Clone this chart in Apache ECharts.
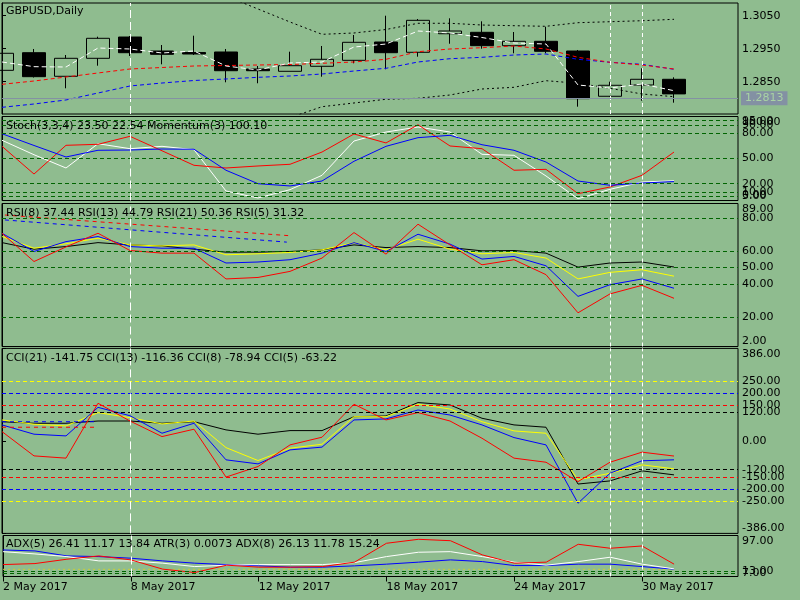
<!DOCTYPE html>
<html>
<head>
<meta charset="utf-8">
<title>GBPUSD,Daily</title>
<script src="https://cdn.jsdelivr.net/npm/echarts@6/dist/echarts.min.js"></script>
<style>
  html, body { margin: 0; padding: 0; background: #8fbc8f; }
  #chart { width: 800px; height: 600px; }
</style>
</head>
<body>
<div id="chart"></div>
<script>
// bars
var dates = ['2 May 2017', '3 May 2017', '4 May 2017', '5 May 2017', '8 May 2017', '9 May 2017', '10 May 2017', '11 May 2017',
  '12 May 2017', '15 May 2017', '16 May 2017', '17 May 2017', '18 May 2017', '19 May 2017', '22 May 2017', '23 May 2017',
  '24 May 2017', '25 May 2017', '26 May 2017', '29 May 2017', '30 May 2017', '31 May 2017']
var openP = [1.28845, 1.29379, 1.28664, 1.29209, 1.29854, 1.29430, 1.29385, 1.29400, 1.28885, 1.28815, 1.28967,
  1.29148, 1.29703, 1.29391, 1.29954, 1.29997, 1.29591, 1.29724, 1.29430, 1.28058, 1.28400, 1.28573]
var closeP = [1.29361, 1.28652, 1.29209, 1.29815, 1.29379, 1.29330, 1.29339, 1.28833, 1.28833, 1.28985, 1.29179,
  1.29694, 1.29379, 1.30360, 1.30036, 1.29591, 1.29724, 1.29421, 1.27985, 1.28391, 1.28573, 1.28130]
var lowP = [1.28845, 1.28627, 1.28300, 1.28985, 1.29279, 1.29027, 1.29309, 1.28482, 1.28452, 1.28815, 1.28652,
  1.29058, 1.28876, 1.29258, 1.29651, 1.29500, 1.29361, 1.29361, 1.27743, 1.28040, 1.27924, 1.27864]
var highP = [1.29361, 1.29491, 1.29309, 1.29864, 1.29885, 1.29612, 1.29894, 1.29491, 1.28976, 1.29409, 1.29582,
  1.29915, 1.30500, 1.30400, 1.30421, 1.30330, 1.30006, 1.30167, 1.29461, 1.28500, 1.28906, 1.28633]
var lastPrice = 1.2813

// price overlays
var maWhite = [1.29097, 1.28955, 1.28945, 1.29521, 1.29491, 1.29370, 1.29430, 1.28976, 1.28855, 1.29067, 1.29097,
  1.29551, 1.29642, 1.30036, 1.29976, 1.29839, 1.29673, 1.29642, 1.28400, 1.28309, 1.28430, 1.28227]
var maRed = [1.28421, 1.28521, 1.28642, 1.28764, 1.28885, 1.28930, 1.28976, 1.28991, 1.29006, 1.29021, 1.29058,
  1.29097, 1.29179, 1.29409, 1.29491, 1.29530, 1.29582, 1.29491, 1.29239, 1.29088, 1.29006, 1.28885]
var maBlue = [1.27724, 1.27824, 1.27946, 1.28157, 1.28370, 1.28460, 1.28536, 1.28582, 1.28633, 1.28673, 1.28733,
  1.28824, 1.28906, 1.29097, 1.29197, 1.29239, 1.29309, 1.29339, 1.29179, 1.29088, 1.29027, 1.28876]
var bandUp = [null, null, null, null, null, null, null, 1.31097, 1.30703, 1.30309, 1.29936, 1.29976, 1.30082,
  1.30270, 1.30270, 1.30218, 1.30197, 1.30179, 1.30288, 1.30318, 1.30348, 1.30391]
var bandLow = [null, null, null, null, null, null, null, null, null, 1.27412, 1.27742, 1.27855, 1.27967, 1.27997,
  1.28097, 1.28279, 1.28330, 1.28530, 1.28452, 1.28300, 1.28127, 1.28046]

// stochastic / momentum
var stochMain = [71.7, 54.5, 38.7, 67.6, 61.7, 64.5, 60.5, 11.3, 3.0, 12.9, 30.0, 70.8, 81.5, 87.5, 81.5, 55.0,
  53.8, 29.2, 2.1, 13.3, 22.0, 23.5]
var stochSignal = [79.5, 65.5, 51.8, 59.8, 60.1, 61.3, 61.0, 36.0, 20.0, 17.3, 23.2, 46.7, 64.5, 74.8, 77.6, 66.4,
  59.8, 45.8, 23.2, 18.1, 20.8, 22.54]
var momentum = [64.5, 31.5, 65.7, 66.9, 76.4, 59.2, 41.9, 38.7, 41.1, 43.1, 57.7, 79.2, 68.5, 90.2, 64.9, 61.7,
  36.0, 37.1, 8.1, 16.1, 30.0, 57.7]

// RSI
var rsi5 = [70.9, 53.7, 62.6, 70.9, 60.4, 58.8, 58.8, 43.1, 44.0, 47.7, 55.8, 71.3, 58.2, 76.4, 63.8, 51.7, 54.8,
  45.7, 22.5, 34.0, 39.2, 31.32]
var rsi8 = [70.9, 59.8, 65.8, 68.9, 62.8, 61.8, 61.8, 52.8, 53.4, 54.8, 58.8, 65.2, 59.8, 70.3, 64.3, 55.2, 56.8,
  51.1, 32.5, 39.6, 43.1, 37.44]
var rsi13 = [68.9, 61.8, 64.5, 67.9, 63.8, 63.2, 63.8, 57.8, 58.4, 59.2, 60.8, 65.2, 60.8, 67.3, 61.2, 58.4, 59.2,
  55.8, 43.1, 47.1, 48.7, 44.79]
var rsi21 = [65.2, 61.2, 62.8, 65.2, 63.8, 63.2, 61.2, 59.4, 59.4, 59.8, 60.8, 63.8, 62.2, 62.8, 62.2, 60.2, 60.4,
  58.8, 50.3, 52.8, 53.4, 50.36]
var rsiTrendRed = [[0.09, 82.0], [9.06, 69.3]]
var rsiTrendBlue = [[0.09, 79.0], [8.9, 65.5]]

// CCI
var cci5 = [38.8, -62.5, -72, 157, 83, 18, 48.8, -151, -107, -16.7, 15.4, 153, 87.5, 118, 83, 11, -72, -89, -170,
  -89, -47, -63.22]
var cci8 = [66.7, 28, 20.8, 140, 105, 32, 73.6, -79, -96, -37.5, -26, 87.5, 91.7, 129, 108, 66.7, 13.9, -16.7, -260,
  -135, -83, -78.94]
var cci13 = [87.5, 69.6, 62.5, 118, 97, 70.8, 83, -28, -82, -30.6, -13.9, 101, 101, 153, 133, 80, 41.7, 32, -162.5,
  -135, -100, -116.36]
var cci21 = [80, 73.6, 73.6, 83, 83, 73.6, 80, 46, 28, 43, 43, 101, 104, 160, 150, 94.4, 66.7, 57, -180, -167, -125,
  -141.75]
var cciTrendBlue = [[0, 80], [2.97, 80]]
var cciTrendRed = [[0, 57], [2.97, 57]]

// ADX / ATR
var adxRed = [28.2, 30.6, 40.9, 48.7, 39.3, 17.4, 9.4, 26.8, 22.1, 22.1, 23.5, 33.9, 78.6, 88.0, 84.7, 51.1, 31.5,
  33.9, 76.2, 66.8, 72.2, 29.2]
var adxWhite = [58.8, 53.4, 47.1, 36.9, 36.9, 31.5, 23.5, 26.8, 28.2, 28.2, 28.2, 32.9, 47.1, 57.4, 58.8, 47.1, 33.9,
  26.8, 35.3, 45.6, 29.2, 18.1]
var adxBlue = [62.8, 60.5, 48.7, 47.1, 43.3, 36.9, 31.5, 28.2, 25.2, 22.1, 22.1, 25.2, 29.2, 33.9, 39.3, 35.3, 25.9,
  25.9, 29.2, 29.2, 23.5, 17.4]
var atrLine = [17, 17, 17, 17, 17, 17, 17, 17, 17, 17, 17, 17, 17, 17, 17, 17, 17, 17, 17, 17, 17, 17]

// levels and ticks
var markerBars = [4, 19, 20]
var dateTicks = [0, 4, 8, 12, 16, 20]
var priceTicks = [1.2850, 1.2950, 1.3050]
var stochTicks = [0, 5, 10, 20, 50, 80, 90, 95, 100]
var stochLevels = [5, 10, 20, 50, 80, 90, 95]
var rsiTicks = [2, 20, 40, 50, 60, 80, 89]
var rsiLevels = [20, 40, 50, 60, 80]
var cciTicks = [-386, -250, -200, -150, -120, 0, 120, 150, 200, 250, 386]
var cciLevels = [-250, -200, -150, -120, 120, 150, 200, 250]
var adxTicks = [7, 13, 97]
var adxLevels = [7, 13]

var font = 'DejaVu Sans'
var chart = echarts.init(document.getElementById('chart'))

function pts (arr) {
  return arr.map(function (v, i) { return [i, v] })
}

function vMarks () {
  return markerBars.map(function (b, k) {
    return {xAxis: b, lineStyle: {color: '#fff', width: 1, type: k === 0 ? [8, 4] : [4, 3]}}
  })
}

function levelMarks (levels, colorFn) {
  return levels.map(function (v) {
    return {yAxis: v, lineStyle: {color: colorFn ? colorFn(v) : '#006400', width: 1, type: [4, 3]}}
  })
}

function markLine (items) {
  return {
    symbol: ['none', 'none'],
    silent: true,
    animation: false,
    label: {show: false},
    data: items
  }
}

function line (gi, data, color, dash, extra) {
  var s = {
    type: 'line',
    xAxisIndex: gi,
    yAxisIndex: gi,
    data: data,
    symbol: 'none',
    silent: true,
    lineStyle: {color: color, width: 1, type: dash || 'solid'}
  }
  if (extra) s.markLine = extra
  return s
}

function cciColor (v) {
  var a = Math.abs(v)
  if (a === 250) return '#ffff00'
  if (a === 200) return '#0000ff'
  if (a === 150) return '#ff0000'
  return '#000'
}

var grids = [
  {top: 3, height: 111},
  {top: 116.5, height: 84},
  {top: 203.5, height: 143},
  {top: 348.4, height: 185},
  {top: 535.5, height: 41}
].map(function (g) {
  return {left: 2, right: 62, top: g.top, height: g.height, show: true, borderColor: '#000', borderWidth: 1, backgroundColor: 'transparent'}
})

var xAxes = grids.map(function (g, i) {
  var last = i === grids.length - 1
  return {
    type: 'value', gridIndex: i, min: 0, max: 23, show: last,
    splitLine: {show: false},
    axisLine: {show: false},
    axisTick: {show: last, length: 5, customValues: dateTicks, lineStyle: {color: '#000'}},
    axisLabel: {
      show: last, customValues: dateTicks, align: 'left', margin: 5,
      color: '#000', fontSize: 11, fontFamily: font,
      formatter: function (v) { return dates[v] }
    }
  }
})

// main axis per panel: line and ticks only
function yAx (gi, min, max, ticks) {
  return {
    type: 'value', gridIndex: gi, position: 'right', min: min, max: max,
    splitLine: {show: false},
    axisLine: {show: true, lineStyle: {color: '#000'}},
    axisTick: {show: true, length: 4, customValues: ticks, lineStyle: {color: '#000'}},
    axisLabel: {show: false}
  }
}

// one overlay axis per label, so MT4-style overlapping labels all stay visible
function labelAxes (gi, min, max, ticks, dec) {
  return ticks.map(function (v) {
    var va = 'middle'
    if (v === max && gi > 0) va = 'top'
    if (v === min && gi > 0) va = 'bottom'
    return {
      type: 'value', gridIndex: gi, position: 'right', min: min, max: max,
      splitLine: {show: false},
      axisLine: {show: false},
      axisTick: {show: false},
      axisLabel: {
        customValues: [v], margin: 4, color: '#000', fontSize: 11, fontFamily: font,
        verticalAlign: va,
        formatter: function (x) { return x.toFixed(dec) }
      }
    }
  })
}

var panels = [
  [1.27521, 1.30885, priceTicks, 4],
  [0, 100, stochTicks, 2],
  [2, 89, rsiTicks, 2],
  [-386, 386, cciTicks, 2],
  [0, 97, adxTicks, 2]
]
var yAxes = panels.map(function (p, i) { return yAx(i, p[0], p[1], p[2]) })
panels.forEach(function (p, i) {
  yAxes = yAxes.concat(labelAxes(i, p[0], p[1], p[2], p[3]))
})

var candles = dates.map(function (d, i) {
  return [i, openP[i], closeP[i], lowP[i], highP[i]]
})

var priceMarks = vMarks().concat([{
  yAxis: lastPrice,
  lineStyle: {color: '#8391a3', width: 1, type: 'solid'},
  label: {
    show: true, position: 'end', distance: 3, formatter: lastPrice.toFixed(4),
    backgroundColor: '#8391a3', color: '#a9d3a4', padding: [2, 4, 1, 4],
    fontSize: 11, fontFamily: font
  }
}])

var series = [
  {
    type: 'candlestick', xAxisIndex: 0, yAxisIndex: 0, data: candles, barWidth: 23, silent: true,
    itemStyle: {color: 'rgba(0,0,0,0)', color0: '#000', borderColor: '#000', borderColor0: '#000', borderWidth: 1}
  },
  line(0, pts(bandUp), '#000', [2, 3]),
  line(0, pts(bandLow), '#000', [2, 3]),
  line(0, pts(maBlue), '#0000ff', [4, 3]),
  line(0, pts(maRed), '#ff0000', [4, 3]),
  line(0, pts(maWhite), '#ffffff', [5, 3], markLine(priceMarks)),

  line(1, pts(stochMain), '#ffffff', 'solid', markLine(levelMarks(stochLevels).concat(vMarks()))),
  line(1, pts(momentum), '#ff0000'),
  line(1, pts(stochSignal), '#0000ff'),

  line(2, pts(rsi21), '#000', 'solid', markLine(levelMarks(rsiLevels).concat(vMarks()))),
  line(2, pts(rsi13), '#ffff00'),
  line(2, pts(rsi8), '#0000ff'),
  line(2, pts(rsi5), '#ff0000'),
  line(2, rsiTrendRed, '#ff0000', [4, 4]),
  line(2, rsiTrendBlue, '#0000ff', [4, 4]),

  line(3, pts(cci21), '#000', 'solid', markLine(levelMarks(cciLevels, cciColor).concat(vMarks()))),
  line(3, pts(cci13), '#ffff00'),
  line(3, pts(cci8), '#0000ff'),
  line(3, pts(cci5), '#ff0000'),
  line(3, cciTrendBlue, '#0000ff', [4, 4]),
  line(3, cciTrendRed, '#ff0000', [4, 4]),

  line(4, pts(atrLine), '#c8cf3a', [2, 3], markLine(levelMarks(adxLevels).concat(vMarks()))),
  line(4, pts(adxBlue), '#0000ff'),
  line(4, pts(adxWhite), '#ffffff'),
  line(4, pts(adxRed), '#ff0000')
]

var titleStyle = {fontSize: 11, fontWeight: 'normal', color: '#000', fontFamily: font}
var titles = [
  ['GBPUSD,Daily', 5.5],
  ['Stoch(3,3,4) 23.50 22.54 Momentum(3) 100.10', 120.5],
  ['RSI(8) 37.44 RSI(13) 44.79 RSI(21) 50.36 RSI(5) 31.32', 207.5],
  ['CCI(21) -141.75 CCI(13) -116.36 CCI(8) -78.94 CCI(5) -63.22', 352.5],
  ['ADX(5) 26.41 11.17 13.84 ATR(3) 0.0073 ADX(8) 26.13 11.78 15.24', 538.5]
].map(function (t) {
  return {text: t[0], left: 6, top: t[1], padding: 0, textStyle: titleStyle}
})

var option = {
  backgroundColor: '#8fbc8f',
  animation: false,
  title: titles,
  grid: grids,
  xAxis: xAxes,
  yAxis: yAxes,
  series: series
}

chart.setOption(option, true)
</script>
</body>
</html>
